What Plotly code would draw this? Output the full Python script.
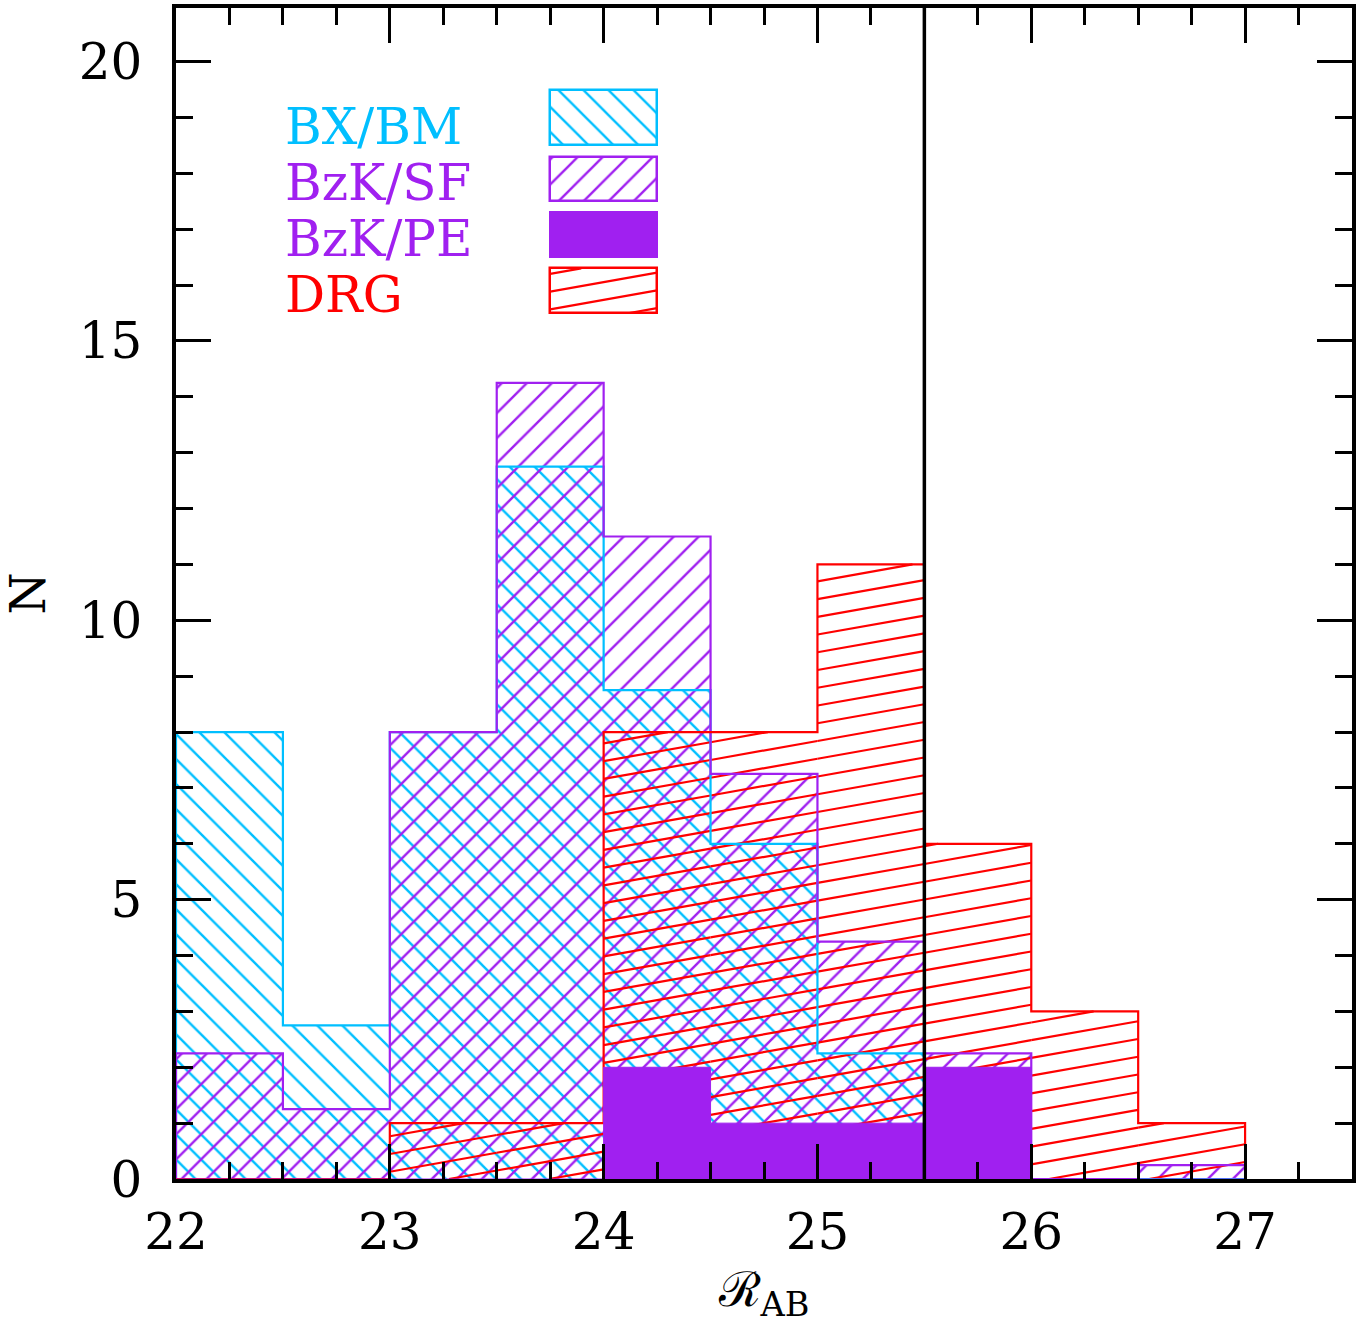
import numpy as np
import plotly.graph_objects as go

# ---------------- data ----------------
bin_edges = [22.0, 22.5, 23.0, 23.5, 24.0, 24.5, 25.0, 25.5, 26.0, 26.5, 27.0]
bx_bm = [8, 2.75, 8, 12.75, 8.75, 6, 2.25, 0, 0, 0]
bzk_sf = [2.25, 1.25, 8, 14.25, 11.5, 7.25, 4.25, 2.25, 0, 0.25]
bzk_pe = [0, 0, 0, 0, 2, 1, 1, 2, 0, 0]
drg = [0, 0, 1, 1, 8, 8, 11, 6, 3, 1]
series_names = ["BX/BM", "BzK/SF", "BzK/PE", "DRG"]
x_tick_vals = [22, 23, 24, 25, 26, 27]
y_tick_vals = [0, 5, 10, 15, 20]
cut_mag = 25.5

# ---------------- style ----------------
CYAN = "#00BFFF"
PURPLE = "#A020F0"
RED = "#FF0000"
FONT = "DejaVu Serif"
PAT_SIZE = 17.7
PAT_SOL = 0.135

lefts = bin_edges[:-1]
rights = bin_edges[1:]
centers = [(a + b) / 2 for a, b in zip(lefts, rights)]
widths = [b - a for a, b in zip(lefts, rights)]


def step_xy(vals):
    xs, ys = [bin_edges[0]], [0]
    for a, b, v in zip(lefts, rights, vals):
        xs += [a, b]
        ys += [v, v]
    xs.append(bin_edges[-1])
    ys.append(0)
    return xs, ys


def hatch_segments(rects, slope, spacing, phase, xref=22.0):
    xs, ys = [], []
    for (x0, x1, y0, y1) in rects:
        if y1 <= y0:
            continue
        cmin = y0 - slope * (x1 - xref)
        cmax = y1 - slope * (x0 - xref)
        kmin = int(np.floor((cmin - phase) / spacing))
        kmax = int(np.ceil((cmax - phase) / spacing))
        for k in range(kmin, kmax + 1):
            c = phase + k * spacing
            xa = max(x0, xref + (y0 - c) / slope)
            xb = min(x1, xref + (y1 - c) / slope)
            if xb - xa > 1e-9:
                xs += [xa, xb, None]
                ys += [c + slope * (xa - xref), c + slope * (xb - xref), None]
    return xs, ys


# legend key boxes (x range, y ranges)
key_x0, key_x1 = 23.75, 24.25
key_boxes = [(18.5, 19.5), (17.5, 18.3), (16.5, 17.3), (15.5, 16.3)]
key_text_x = 22.5
key_text_y = [18.83, 17.83, 16.83, 15.83]

fig = go.Figure()

# hatched histograms
for vals, col, shape in [(bx_bm, CYAN, "\\"), (bzk_sf, PURPLE, "/")]:
    fig.add_trace(go.Bar(
        x=centers, y=vals, width=widths,
        marker=dict(color=col, line=dict(width=0),
                    pattern=dict(shape=shape, fgcolor=col, bgcolor="rgba(0,0,0,0)",
                                 size=PAT_SIZE, solidity=PAT_SOL, fillmode="replace")),
        hoverinfo="skip", showlegend=False))

# legend key hatched boxes
kc = (key_x0 + key_x1) / 2
kw = key_x1 - key_x0
for (b0, b1), col, shape in [(key_boxes[0], CYAN, "\\"), (key_boxes[1], PURPLE, "/")]:
    fig.add_trace(go.Bar(
        x=[kc], y=[b1 - b0], base=[b0], width=[kw],
        marker=dict(color=col, line=dict(width=2.5, color=col),
                    pattern=dict(shape=shape, fgcolor=col, bgcolor="rgba(0,0,0,0)",
                                 size=PAT_SIZE, solidity=PAT_SOL, fillmode="replace")),
        hoverinfo="skip", showlegend=False))
fig.add_trace(go.Bar(
    x=[kc], y=[key_boxes[2][1] - key_boxes[2][0]], base=[key_boxes[2][0]], width=[kw],
    marker=dict(color=PURPLE, line=dict(width=2, color=PURPLE)),
    hoverinfo="skip", showlegend=False))
fig.add_trace(go.Bar(
    x=[kc], y=[key_boxes[3][1] - key_boxes[3][0]], base=[key_boxes[3][0]], width=[kw],
    marker=dict(color="rgba(0,0,0,0)", line=dict(width=2.5, color=RED)),
    hoverinfo="skip", showlegend=False))

# DRG shallow hatch
drg_rects = [(a, b, 0, v) for a, b, v in zip(lefts, rights, drg)]
drg_rects.append((key_x0, key_x1, key_boxes[3][0], key_boxes[3][1]))
hx, hy = hatch_segments(drg_rects, slope=0.679, spacing=0.3176, phase=0.086)
fig.add_trace(go.Scatter(x=hx, y=hy, mode="lines", line=dict(color=RED, width=2.2),
                         hoverinfo="skip", showlegend=False))

# step outlines
for vals, col in [(bx_bm, CYAN), (bzk_sf, PURPLE), (drg, RED)]:
    sx, sy = step_xy(vals)
    fig.add_trace(go.Scatter(x=sx, y=sy, mode="lines", line=dict(color=col, width=2.2),
                             hoverinfo="skip", showlegend=False))

# filled BzK/PE on top of everything
px_, py_ = step_xy(bzk_pe)
fig.add_trace(go.Scatter(x=px_, y=py_, mode="lines", fill="toself", fillcolor=PURPLE,
                         line=dict(color=PURPLE, width=1),
                         hoverinfo="skip", showlegend=False))

# legend texts
for name, col, ty in zip(series_names, [CYAN, PURPLE, PURPLE, RED], key_text_y):
    fig.add_annotation(x=key_text_x, y=ty, text=name, showarrow=False,
                       xanchor="left", yanchor="middle",
                       font=dict(family=FONT, size=50, color=col))

# cut line
fig.add_shape(type="line", x0=cut_mag, x1=cut_mag, y0=0, y1=1, xref="x", yref="paper",
              line=dict(color="black", width=3.5), layer="above")

axis_common = dict(
    showline=True, linecolor="black", linewidth=3.5, mirror="ticks",
    ticks="inside", ticklen=35, tickwidth=2.5, tickcolor="black",
    showgrid=False, zeroline=False,
    tickfont=dict(family=FONT, size=50, color="black"),
)

fig.update_layout(
    width=1369, height=1331,
    margin=dict(l=176, r=17, t=4, b=152),
    plot_bgcolor="white", paper_bgcolor="white",
    barmode="overlay", bargap=0,
    xaxis=dict(range=[22, 27.5], tickvals=x_tick_vals,
               minor=dict(dtick=0.25, tick0=22, ticks="inside", ticklen=17,
                          tickwidth=2.5, tickcolor="black", showgrid=False),
               title=dict(text="ℛ<sub>AB</sub>", font=dict(family=FONT, size=48, color="black"),
                          standoff=12),
               ticklabelstandoff=6,
               **axis_common),
    yaxis=dict(range=[0, 20.96], tickvals=y_tick_vals,
               minor=dict(dtick=1, tick0=0, ticks="inside", ticklen=17,
                          tickwidth=2.5, tickcolor="black", showgrid=False),
               title=dict(text="N", font=dict(family=FONT, size=48, color="black"),
                          standoff=25),
               ticklabelstandoff=20,
               **axis_common),
)

fig.write_html("out.html")
